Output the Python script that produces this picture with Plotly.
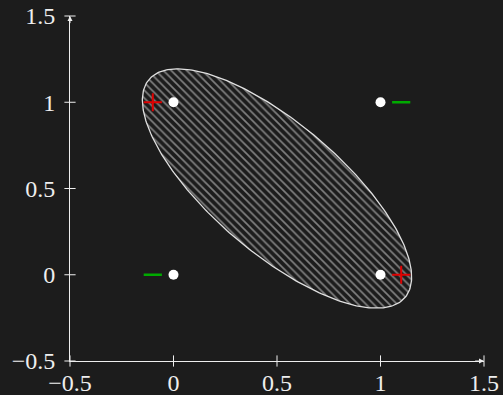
import numpy as np
import plotly.graph_objects as go

# data
pts_x = [0, 0, 1, 1]
pts_y = [0, 1, 0, 1]
pos_x = [-0.1, 1.1]
pos_y = [1, 0]
neg_x = [-0.1, 1.1]
neg_y = [0, 1]
tick_vals = [-0.5, 0, 0.5, 1, 1.5]
tick_text = ["\u22120.5", "0", "0.5", "1", "1.5"]

# ellipse geometry
ell_center = (0.5, 0.5)
ell_a = 0.887
ell_b = 0.343
ell_angle_deg = -47.5

BG = "#1c1c1c"
FG = "#eeeeee"

t = np.linspace(0, 2 * np.pi, 361)
th = np.deg2rad(ell_angle_deg)
ex = ell_center[0] + ell_a * np.cos(t) * np.cos(th) - ell_b * np.sin(t) * np.sin(th)
ey = ell_center[1] + ell_a * np.cos(t) * np.sin(th) + ell_b * np.sin(t) * np.cos(th)

fig = go.Figure()
fig.add_trace(go.Scatter(
    x=ex, y=ey, mode="lines", fill="toself",
    line=dict(color="#e0e0e0", width=1.3),
    fillcolor=BG,
    fillpattern=dict(shape="\\", fgcolor="#e4e4e4", bgcolor=BG, size=5.5, solidity=0.3),
    hoverinfo="skip",
))
fig.add_trace(go.Scatter(
    x=pts_x, y=pts_y, mode="markers",
    marker=dict(color="white", size=10, line=dict(width=0)),
))
fig.add_trace(go.Scatter(
    x=pos_x, y=pos_y, mode="markers",
    marker=dict(symbol="cross-thin", size=13, color="#e00000", line=dict(color="#e00000", width=2)),
))
fig.add_trace(go.Scatter(
    x=neg_x, y=neg_y, mode="markers",
    marker=dict(symbol="line-ew", size=13, color="#00aa00", line=dict(color="#00aa00", width=2.5)),
))
# crossing tick marks
fig.add_trace(go.Scatter(
    x=tick_vals, y=[-0.5] * len(tick_vals), mode="markers", cliponaxis=False,
    marker=dict(symbol="line-ns", size=8, line=dict(color=FG, width=1)),
))
fig.add_trace(go.Scatter(
    x=[-0.5] * len(tick_vals), y=tick_vals, mode="markers", cliponaxis=False,
    marker=dict(symbol="line-ew", size=8, line=dict(color=FG, width=1)),
))

# arrowheads
fig.add_annotation(x=1.5, y=-0.5, ax=1.45, ay=-0.5, xref="x", yref="y", axref="x", ayref="y",
                   showarrow=True, arrowhead=2, arrowsize=1, arrowwidth=1, arrowcolor=FG, text="")
fig.add_annotation(x=-0.5, y=1.5, ax=-0.5, ay=1.45, xref="x", yref="y", axref="x", ayref="y",
                   showarrow=True, arrowhead=2, arrowsize=1, arrowwidth=1, arrowcolor=FG, text="")

font = dict(family="Liberation Serif, DejaVu Serif, serif", size=24, color=FG)
fig.update_layout(
    width=503, height=395,
    margin=dict(l=70, r=18.5, t=16, b=34, autoexpand=False),
    paper_bgcolor=BG, plot_bgcolor=BG,
    showlegend=False,
    font=font,
)
fig.update_xaxes(range=[-0.5, 1.5], tickvals=tick_vals, ticktext=tick_text, ticks="",
                 showgrid=False, zeroline=False, showline=True, linecolor=FG, linewidth=1,
                 tickfont=font, ticklabelstandoff=0, automargin=False)
fig.update_yaxes(range=[-0.5, 1.5], tickvals=tick_vals, ticktext=tick_text, ticks="",
                 showgrid=False, zeroline=False, showline=True, linecolor=FG, linewidth=1,
                 tickfont=font, ticklabelstandoff=9, automargin=False)

fig.write_html(
    "out.html",
    config={"displayModeBar": False},
    post_script="document.body.style.margin='0';document.body.style.background='#1c1c1c';",
)
